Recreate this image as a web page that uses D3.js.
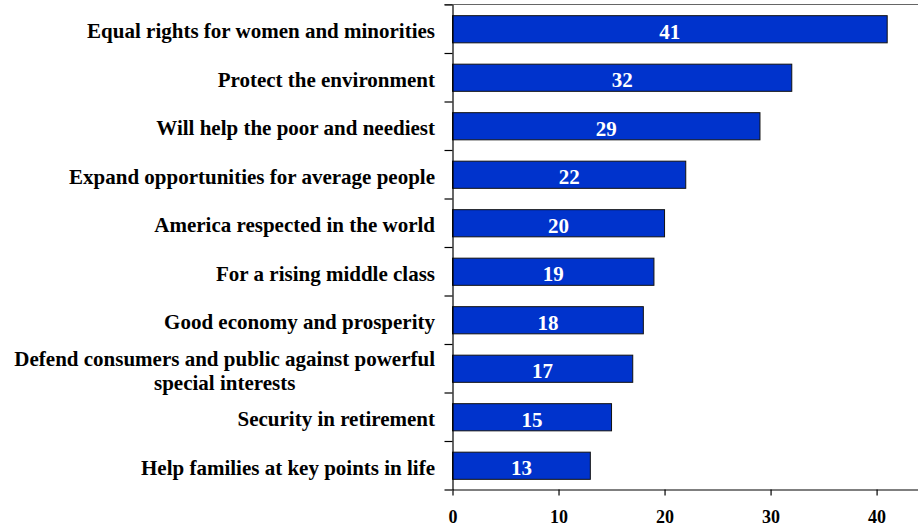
<!DOCTYPE html>
<html><head><meta charset="utf-8">
<script src="https://cdn.jsdelivr.net/npm/d3@7"></script>
<style>
html,body{margin:0;padding:0;background:#fff;}
svg{display:block;}
text{font-family:"Liberation Serif","Times New Roman",serif;font-weight:bold;}
</style></head>
<body>
<svg id="chart" width="918" height="529"></svg>
<script>
const categories = [
  "Equal rights for women and minorities",
  "Protect the environment",
  "Will help the poor and neediest",
  "Expand opportunities for average people",
  "America respected in the world",
  "For a rising middle class",
  "Good economy and prosperity",
  "Defend consumers and public against powerful|special interests",
  "Security in retirement",
  "Help families at key points in life"
];
const values = [41, 32, 29, 22, 20, 19, 18, 17, 15, 13];
const xTicks = [0, 10, 20, 30, 40];

const svg = d3.select("#chart");
const pLeft = 452.5, pRight = 919, pTop = 4.5, pBottom = 489.5;

const x = d3.scaleLinear().domain([0, 44]).range([pLeft, pRight]);
const y = d3.scaleBand().domain(categories).range([pTop + 0.5, pBottom + 0.5]).paddingInner(0.44).paddingOuter(0.22);
const yEdge = d3.scaleLinear().domain([0, categories.length]).range([pTop, pBottom]);

// top border line
svg.append("line")
  .attr("x1", pLeft - 8).attr("x2", pRight)
  .attr("y1", pTop).attr("y2", pTop)
  .attr("stroke", "#666").attr("stroke-width", 1.2);

// bars
svg.append("g").selectAll("rect").data(values).join("rect")
  .attr("x", x(0))
  .attr("y", (d, i) => y(categories[i]))
  .attr("width", d => x(d) - x(0))
  .attr("height", y.bandwidth())
  .attr("fill", "#0033cc")
  .attr("stroke", "#111")
  .attr("stroke-width", 1);

// value labels
svg.append("g").selectAll("text").data(values).join("text")
  .attr("x", d => (x(d) + x(0)) / 2)
  .attr("y", (d, i) => y(categories[i]) + y.bandwidth() / 2 + 9.3)
  .attr("text-anchor", "middle")
  .attr("fill", "#fff")
  .attr("font-size", 21)
  .text(d => d);

// y axis (category boundary ticks)
const yAxis = svg.append("g")
  .attr("transform", `translate(${pLeft},0)`)
  .call(d3.axisLeft(yEdge).tickValues(d3.range(categories.length + 1)).tickSize(8).tickSizeOuter(0).tickFormat(""));
yAxis.selectAll("path,line").attr("stroke", "#000").attr("stroke-width", 1.2);

// x axis
const xAxis = svg.append("g")
  .attr("transform", `translate(0,${pBottom})`)
  .call(d3.axisBottom(x).tickValues(xTicks).tickSize(6).tickSizeOuter(0).tickPadding(15).tickFormat(d3.format("d")));
xAxis.select(".domain").attr("stroke", "#000").attr("stroke-width", 1.2);
xAxis.selectAll(".tick line").attr("stroke", "#000").attr("stroke-width", 1.2);
xAxis.selectAll(".tick text")
  .attr("font-size", 18).attr("fill", "#000")
  .style("font-family", '"Liberation Serif","Times New Roman",serif')
  .style("font-weight", "bold");

// category labels
const labelRight = 435;
const lab = svg.append("g").selectAll("text").data(categories).join("text")
  .attr("font-size", 21)
  .attr("fill", "#000");
lab.each(function(d) {
  const lines = d.split("|");
  const cy = y(d) + y.bandwidth() / 2;
  const lh = 23.3;
  const t = d3.select(this);
  const spans = lines.map((s, k) => t.append("tspan")
      .attr("y", cy + 9.2 + (k - (lines.length - 1) / 2) * lh)
      .text(s));
  if (lines.length === 1) {
    t.attr("text-anchor", "end");
    spans[0].attr("x", labelRight);
  } else {
    t.attr("text-anchor", "middle");
    const w = Math.max(...spans.map(sp => sp.node().getComputedTextLength()));
    spans.forEach(sp => sp.attr("x", labelRight - w / 2));
  }
});
</script>
</body></html>
